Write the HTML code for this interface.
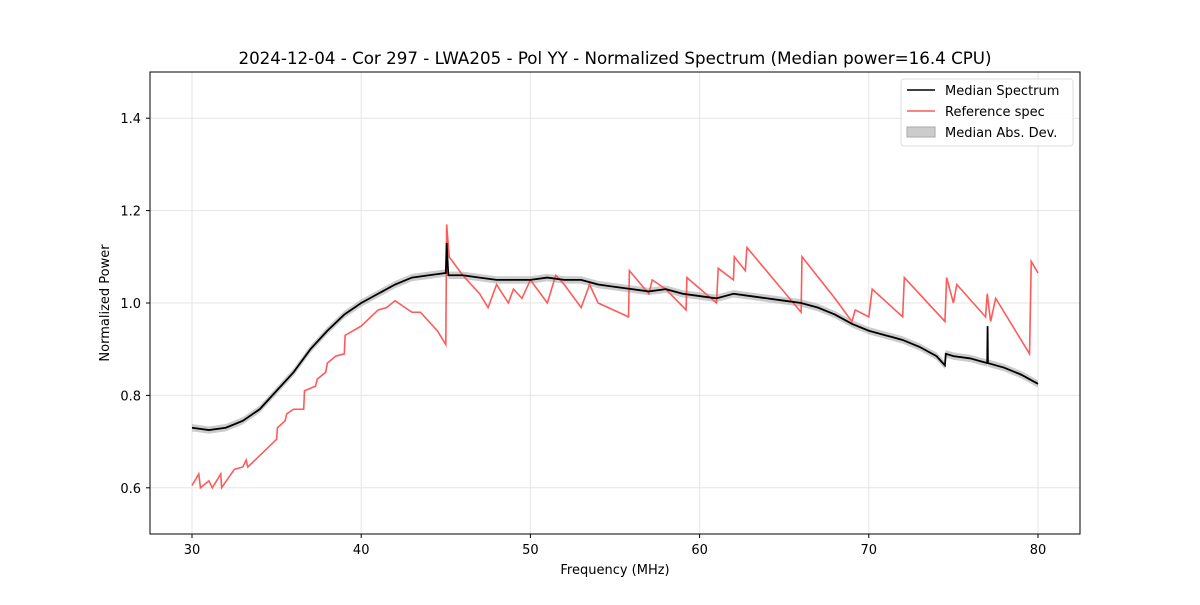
<!DOCTYPE html>
<html><head><meta charset="utf-8"><style>
body{margin:0;background:#fff;font-family:"Liberation Sans","DejaVu Sans",sans-serif;}
svg text{font-family:"DejaVu Sans","Liberation Sans",sans-serif;}
</style></head><body>
<svg id="chart" width="1200" height="600" xmlns="http://www.w3.org/2000/svg">
<rect width="1200" height="600" fill="#fff"/>
<g id="grid"></g>
<g id="series"></g>
<rect x="150" y="72" width="930" height="462" fill="none" stroke="#000" stroke-width="1"/>
<g id="ticks"></g>
<text x="615" y="64" text-anchor="middle" font-size="16.7">2024-12-04 - Cor 297 - LWA205 - Pol YY - Normalized Spectrum (Median power=16.4 CPU)</text>
<text x="615" y="574" text-anchor="middle" font-size="13">Frequency (MHz)</text>
<text transform="translate(109,303) rotate(-90)" text-anchor="middle" font-size="13">Normalized Power</text>
<g>
<rect x="901" y="79" width="172" height="67" fill="#fff" fill-opacity="0.8" stroke="#ddd" rx="3"/>
<line x1="907" y1="90" x2="935" y2="90" stroke="#000" stroke-width="1.5"/>
<text x="945" y="95" font-size="13">Median Spectrum</text>
<line x1="907" y1="111" x2="935" y2="111" stroke="#ff5a5a" stroke-width="1.5"/>
<text x="945" y="116" font-size="13">Reference spec</text>
<rect x="907" y="127" width="28" height="10" fill="#ccc" stroke="#aaa"/>
<text x="945" y="137" font-size="13">Median Abs. Dev.</text>
</g>
</svg>
<script>
const xTicks=[30,40,50,60,70,80];
const yTicks=[0.6,0.8,1.0,1.2,1.4];
const medF=[30,31,32,33,34,35,36,37,38,39,40,41,42,43,44,45,45.05,45.15,46,47,48,49,50,51,52,53,54,55,56,57,58,59,60,61,62,63,64,65,66,67,68,69,70,71,72,73,74,74.5,74.55,75,76,77,77.02,77.04,78,79,80];
const medV=[0.73,0.725,0.73,0.745,0.77,0.81,0.85,0.9,0.94,0.975,1.0,1.02,1.04,1.055,1.06,1.065,1.13,1.06,1.06,1.055,1.05,1.05,1.05,1.055,1.05,1.05,1.04,1.035,1.03,1.025,1.03,1.02,1.015,1.01,1.02,1.015,1.01,1.005,1.0,0.99,0.975,0.955,0.94,0.93,0.92,0.905,0.885,0.865,0.89,0.885,0.88,0.87,0.95,0.87,0.86,0.845,0.825];
const refF=[30,30.4,30.5,31,31.2,31.7,31.75,32.5,33,33.2,33.3,35,35.05,35.5,35.6,36,36.6,36.65,37.3,37.4,37.9,38,38.5,39,39.05,40,41,41.5,42,43,43.5,44,44.5,45,45.05,45.2,46,47,47.5,48,48.7,49,49.5,50,51,51.5,52,53,53.5,54,55.8,55.85,57,57.2,58,59.2,59.25,61,61.1,62,62.05,62.7,62.8,66,66.05,68,69,69.2,70,70.2,72,72.1,74.5,74.6,75,75.2,76.9,77,77.2,77.5,79.5,79.6,80];
const refV=[0.605,0.63,0.6,0.615,0.6,0.63,0.6,0.64,0.645,0.66,0.645,0.705,0.73,0.745,0.76,0.77,0.77,0.81,0.82,0.835,0.85,0.87,0.885,0.89,0.93,0.95,0.985,0.99,1.005,0.98,0.98,0.96,0.94,0.91,1.17,1.1,1.06,1.02,0.99,1.04,1.0,1.03,1.01,1.05,1.0,1.06,1.04,0.99,1.04,1.0,0.97,1.07,1.02,1.05,1.03,0.985,1.055,1.0,1.075,1.05,1.1,1.07,1.12,0.98,1.1,1.01,0.96,0.985,0.97,1.03,0.97,1.055,0.96,1.055,1.0,1.04,0.97,1.02,0.96,1.01,0.89,1.09,1.065];
const madW=0.008;
const NS="http://www.w3.org/2000/svg";
const X=f=>192+(f-30)*(1038-192)/50;
const Y=v=>534-(v-0.5)*462;
const grid=document.getElementById('grid'),ticks=document.getElementById('ticks'),ser=document.getElementById('series');
function mk(tag,attrs,parent){const e=document.createElementNS(NS,tag);for(const k in attrs)e.setAttribute(k,attrs[k]);parent.appendChild(e);return e;}
xTicks.forEach(t=>{
 const g=mk('line',{x1:X(t),x2:X(t),y1:72,y2:534,stroke:'#e5e5e5','stroke-width':1},grid);
 
 
 mk('line',{x1:X(t),x2:X(t),y1:534,y2:538,stroke:'#000'},ticks);
 const tx=mk('text',{x:X(t),y:554,'text-anchor':'middle','font-size':13},ticks);tx.textContent=t;
 
 
});
yTicks.forEach(t=>{
 const g=mk('line',{x1:150,x2:1080,y1:Y(t),y2:Y(t),stroke:'#e5e5e5','stroke-width':1},grid);
 
 
 mk('line',{x1:146,x2:150,y1:Y(t),y2:Y(t),stroke:'#000'},ticks);
 const tx=mk('text',{x:141,y:Y(t)+5,'text-anchor':'end','font-size':13},ticks);tx.textContent=t.toFixed(1);
 
 
});
let up=medF.map((f,i)=>X(f)+','+Y(medV[i]+madW)).join(' ');
let dn=medF.map((f,i)=>X(f)+','+Y(medV[i]-madW)).reverse().join(' ');
const band=mk('polygon',{points:up+' '+dn,fill:'#aaa','fill-opacity':0.6},ser);


const ref=mk('polyline',{points:refF.map((f,i)=>X(f)+','+Y(refV[i])).join(' '),fill:'none',stroke:'#ff5a5a','stroke-width':1.6},ser);


const med=mk('polyline',{points:medF.map((f,i)=>X(f)+','+Y(medV[i])).join(' '),fill:'none',stroke:'#000','stroke-width':1.8},ser);


</script>
</body></html>
